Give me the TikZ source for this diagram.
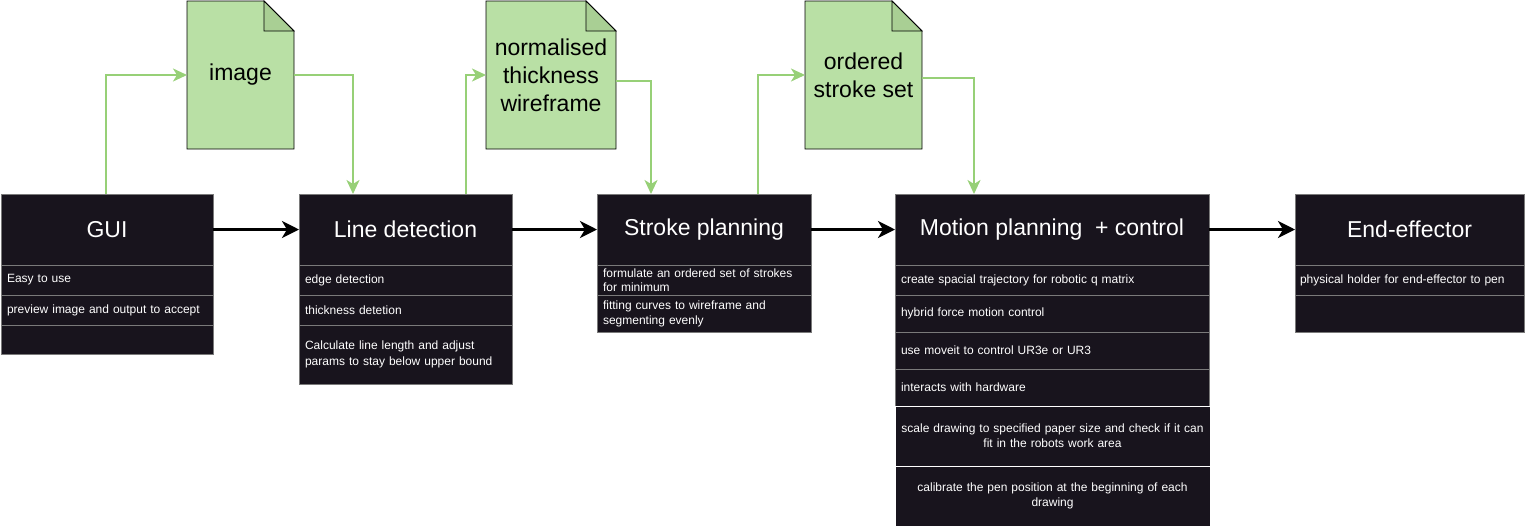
\documentclass[tikz,border=0pt]{standalone}
\usepackage{fontspec}
\setmainfont{Liberation Sans}
\usetikzlibrary{arrows.meta,backgrounds}
\definecolor{boxfill}{HTML}{18141D}
\definecolor{rowline}{HTML}{7A7A7A}
\definecolor{gline}{HTML}{97D077}
\definecolor{docfill}{HTML}{B9E0A5}
\definecolor{foldfill}{HTML}{A9CF94}
\newcommand{\docshape}[1]{%
  \begin{scope}[on background layer]
    \filldraw[fill=docfill, draw=black, line width=0.8pt, line join=miter]
      (#1.south west) -- (#1.north west) -- ([xshift=-30pt]#1.north east)
      -- ([yshift=-30pt]#1.north east) -- (#1.south east) -- cycle;
    \filldraw[fill=foldfill, draw=black, line width=0.8pt]
      ([xshift=-30pt]#1.north east) -- ([xshift=-30pt,yshift=-30pt]#1.north east)
      -- ([yshift=-30pt]#1.north east) -- cycle;
  \end{scope}}
\begin{document}
\begin{tikzpicture}[x=1pt,y=-1pt,
  hdr/.style={draw=rowline, fill=boxfill, text=white, font=\fontsize{23}{27}\selectfont,
    anchor=north west, inner sep=0pt, outer sep=0pt, minimum height=71pt},
  rowbox/.style={draw=rowline, fill=boxfill, text=white, font=\fontsize{12}{15}\selectfont,
    anchor=north west, inner xsep=6pt, inner ysep=0pt, outer sep=0pt, align=left},
  crowbox/.style={rowbox, draw=white, align=center},
  docnode/.style={inner sep=0pt, outer sep=0pt, minimum height=148pt, align=center,
    font=\fontsize{23}{28}\selectfont, text=black},
  garrow/.style={draw=gline, line width=2pt, -{Stealth[length=14pt,width=13pt,inset=4pt]}},
  barrow/.style={draw=black, line width=3pt, -{Stealth[length=17pt,width=17pt,inset=5pt]}}]
\useasboundingbox (0,0) rectangle (1525,528);

% GUI
\node[hdr, minimum width=212pt] (gui) at (1,194) {GUI};
\node[rowbox, text width=200pt, minimum height=30pt] (gui1) at (1,265) {Easy to use};
\node[rowbox, text width=200pt, minimum height=30pt] (gui2) at (1,295) {preview image and output to accept};
\node[rowbox, text width=200pt, minimum height=29pt] (gui3) at (1,325) {};

% Line detection
\node[hdr, minimum width=213pt] (ld) at (299,194) {Line detection};
\node[rowbox, text width=201pt, minimum height=30pt] (ld1) at (299,265) {edge detection};
\node[rowbox, text width=201pt, minimum height=30pt] (ld2) at (299,295) {thickness detetion};
\node[rowbox, text width=201pt, minimum height=59pt, font=\fontsize{12}{15.5}\selectfont] (ld3) at (299,325)
  {Calculate line length and adjust\\params to stay below upper bound};

% Stroke planning
\node[hdr, minimum width=214pt] (sp) at (597,194) {Stroke planning};
\node[rowbox, text width=202pt, minimum height=30pt, font=\fontsize{12}{13.5}\selectfont] (sp1) at (597,265)
  {formulate an ordered set of strokes\\for minimum};
\node[rowbox, text width=202pt, minimum height=37pt] (sp2) at (597,295)
  {fitting curves to wireframe and\\segmenting evenly};

% Motion planning
\node[hdr, minimum width=314pt] (mp) at (895,194) {Motion planning \ + control};
\node[rowbox, text width=302pt, minimum height=30pt] (mp1) at (895,265) {create spacial trajectory for robotic q matrix};
\node[rowbox, text width=302pt, minimum height=37pt] (mp2) at (895,295) {hybrid force motion control};
\node[rowbox, text width=302pt, minimum height=37pt] (mp3) at (895,332) {use moveit to control UR3e or UR3};
\node[rowbox, text width=302pt, minimum height=37pt] (mp4) at (895,369) {interacts with hardware};
\node[crowbox, text width=303pt, minimum height=60pt] (mp5) at (895,406)
  {scale drawing to specified paper size and check if it can\\fit in the robots work area};
\node[crowbox, text width=303pt, minimum height=60pt] (mp6) at (895,466)
  {calibrate the pen position at the beginning of each\\drawing};

% End-effector
\node[hdr, minimum width=229pt] (ee) at (1295,194) {End-effector};
\node[rowbox, inner xsep=5pt, text width=219pt, minimum height=30pt] (ee1) at (1295,265) {physical holder for end-effector to pen};
\node[rowbox, inner xsep=5pt, text width=219pt, minimum height=37pt] (ee2) at (1295,295) {};

% Documents
\node[docnode, minimum width=107pt] (img) at (240.5,75) {image};
\node[docnode, minimum width=130pt] (norm) at (551,75) {normalised\\thickness\\wireframe};
\node[docnode, minimum width=117pt] (ord) at (863.5,75) {ordered\\stroke set};
\docshape{img}
\docshape{norm}
\docshape{ord}

% main flow
\draw[barrow] (gui.east) -- (ld.west);
\draw[barrow] (ld.east) -- (sp.west);
\draw[barrow] (sp.east) -- (mp.west);
\draw[barrow] (mp.east) -- (ee.west);

% data flow
\draw[garrow] ([xshift=105pt]gui.north west) |- (img.west);
\draw[garrow] (img.east) -| ([xshift=54pt]ld.north west);
\draw[garrow] ([xshift=167pt]ld.north west) |- (norm.west);
\draw[garrow] ([yshift=-6pt]norm.east) -| ([xshift=54pt]sp.north west);
\draw[garrow] ([xshift=161pt]sp.north west) |- (ord.west);
\draw[garrow] ([yshift=-3pt]ord.east) -| ([xshift=79pt]mp.north west);
\end{tikzpicture}
\end{document}
